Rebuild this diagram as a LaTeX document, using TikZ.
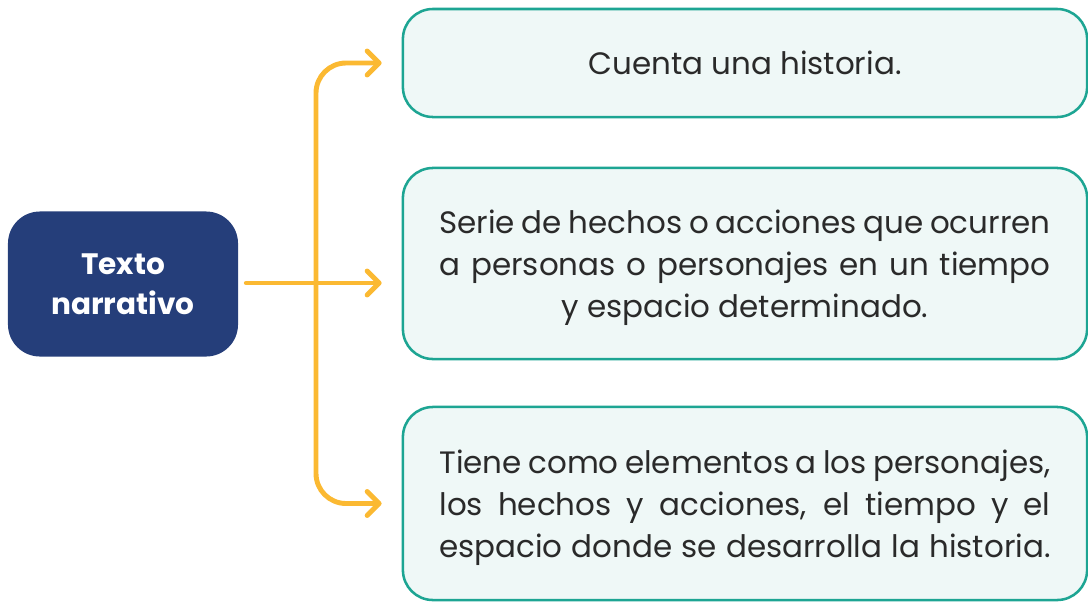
\documentclass[tikz,border=0pt]{standalone}
\usepackage{fontspec}
\setmainfont{Poppins}
\usetikzlibrary{arrows.meta}

\definecolor{navy}{HTML}{253E7A}
\definecolor{tealline}{HTML}{1DA593}
\definecolor{tealfill}{HTML}{EFF8F7}
\definecolor{linkcol}{HTML}{FBB932}
\definecolor{txtgray}{HTML}{2A2A2A}

\newcommand{\fullline}[1]{\makebox[15.275cm][s]{#1}}
\newcommand{\topstrut}{\rule{0pt}{0.8cm}}

\tikzset{
	mainbox/.style={shape=rectangle, rounded corners=0.8cm, fill=navy, text=white,
		minimum width=5.75cm, minimum height=3.625cm, align=center,
		font=\fontsize{21}{28.4}\selectfont\bfseries},
	infobox/.style={shape=rectangle, rounded corners=0.75cm, draw=tealline, fill=tealfill,
		line width=1.8pt, minimum width=17.1cm, inner sep=0pt, align=center, text=txtgray,
		font=\fontsize{22}{30.2}\selectfont},
	link/.style={draw=linkcol, line width=3.5pt, line cap=round, rounded corners=0.75cm,
		-{Straight Barb[length=0.3cm,width=0.6cm,line cap=round,line join=round]},
		shorten >=0.5cm}
}

\begin{document}
\begin{tikzpicture}[x=0.025cm,y=-0.025cm]
	\useasboundingbox (0,0) rectangle (1088,601);

	\node[mainbox] (texto) at (123,284) {Texto\\narrativo};

	\node[infobox, minimum height=2.7cm]   (cuenta) at (745,63)    {Cuenta una historia.};
	\node[infobox, minimum height=4.775cm] (serie)  at (745,263.5)
		{\topstrut\fullline{Serie de hechos o acciones que ocurren}\\
		 \fullline{a personas o personajes en un tiempo}\\
		 y espacio determinado.};
	\node[infobox, minimum height=4.825cm] (tiene)  at (745,503.5)
		{\topstrut\fullline{Tiene como elementos a los personajes,}\\
		 \fullline{los hechos y acciones, el tiempo y el}\\
		 \fullline{espacio donde se desarrolla la historia.}};

	\coordinate (split) at (316,283);

	\path[link] ([xshift=0.2cm]texto.east |- split) -- (split -| serie.west);
	\path[link] (split) |- (cuenta.west);
	\path[link] (split) |- (tiene.west);

\end{tikzpicture}
\end{document}
